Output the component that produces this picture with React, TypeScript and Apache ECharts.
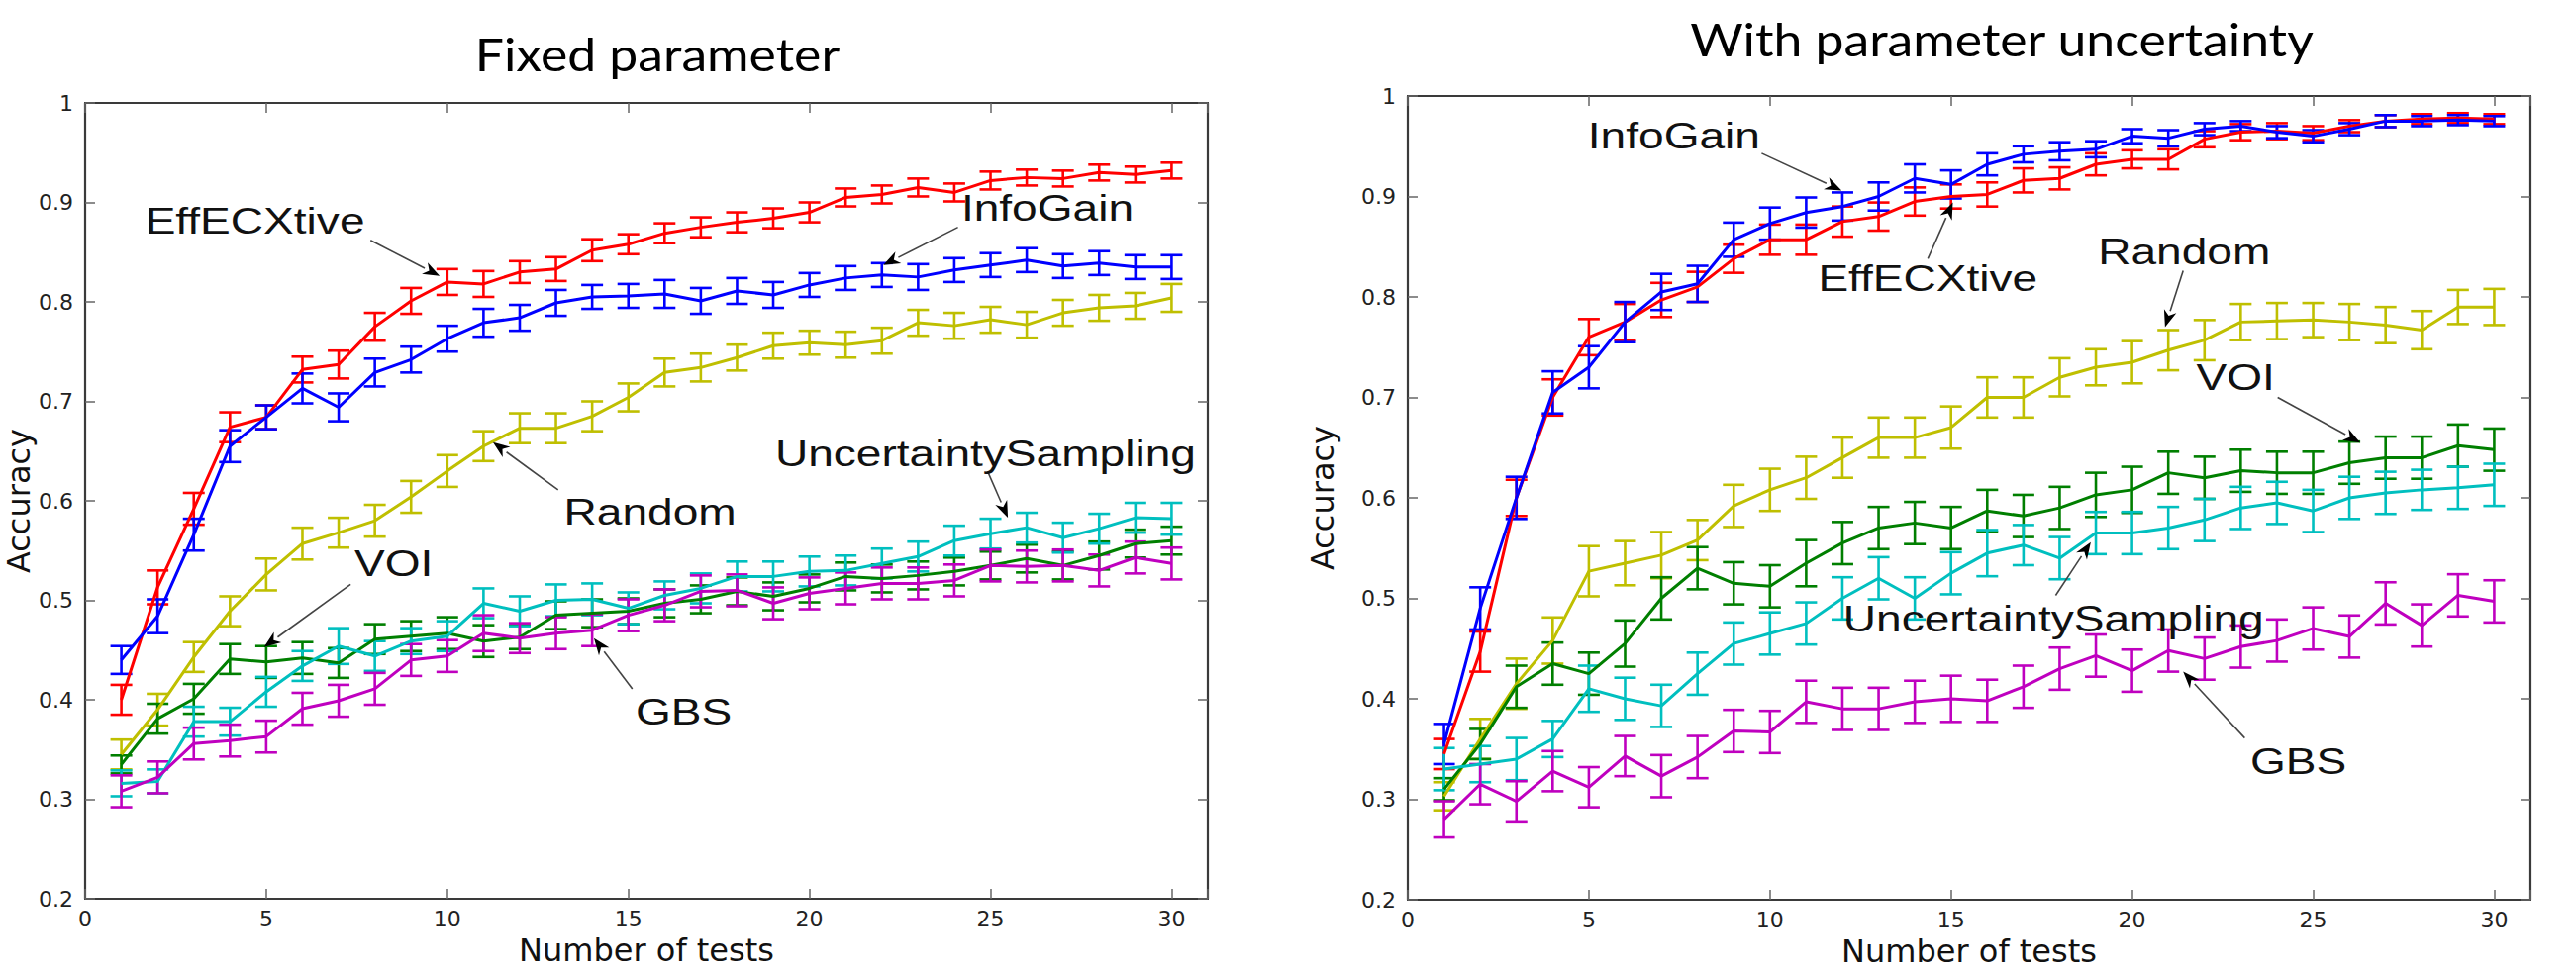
import React, { useEffect, useRef } from "react";
import * as echarts from "echarts";

// ---------------- DATA ----------------
const tests = [1, 2, 3, 4, 5, 6, 7, 8, 9, 10, 11, 12, 13, 14, 15, 16, 17, 18, 19, 20, 21, 22, 23, 24, 25, 26, 27, 28, 29, 30];
const xTicks = [0, 5, 10, 15, 20, 25, 30];
const yTicks = [0.2, 0.3, 0.4, 0.5, 0.6, 0.7, 0.8, 0.9, 1];

const methods = ["EffECXtive", "InfoGain", "Random", "VOI", "UncertaintySampling", "GBS"];

// Panel 1: Fixed parameter
const fixedEffECXtive = [0.400, 0.513, 0.592, 0.674, 0.684, 0.732, 0.737, 0.775, 0.801, 0.820, 0.818, 0.830, 0.833, 0.852, 0.858, 0.869, 0.875, 0.880, 0.884, 0.890, 0.905, 0.908, 0.915, 0.910, 0.922, 0.925, 0.924, 0.930, 0.928, 0.932];
const fixedInfoGain = [0.440, 0.484, 0.566, 0.655, 0.684, 0.713, 0.694, 0.729, 0.742, 0.763, 0.779, 0.784, 0.799, 0.805, 0.806, 0.808, 0.801, 0.811, 0.807, 0.817, 0.824, 0.827, 0.825, 0.832, 0.837, 0.842, 0.836, 0.839, 0.835, 0.835];
const fixedRandom = [0.345, 0.390, 0.443, 0.489, 0.526, 0.557, 0.568, 0.580, 0.604, 0.630, 0.655, 0.673, 0.673, 0.685, 0.704, 0.729, 0.734, 0.744, 0.756, 0.759, 0.757, 0.761, 0.779, 0.776, 0.782, 0.777, 0.789, 0.794, 0.796, 0.804];
const fixedVOI = [0.335, 0.381, 0.401, 0.441, 0.438, 0.442, 0.437, 0.461, 0.464, 0.467, 0.459, 0.463, 0.485, 0.487, 0.489, 0.497, 0.501, 0.509, 0.504, 0.512, 0.524, 0.522, 0.525, 0.529, 0.535, 0.542, 0.535, 0.545, 0.557, 0.560];
const fixedUncertainty = [0.316, 0.318, 0.378, 0.378, 0.408, 0.434, 0.454, 0.444, 0.459, 0.464, 0.497, 0.489, 0.500, 0.501, 0.492, 0.505, 0.512, 0.524, 0.524, 0.529, 0.530, 0.537, 0.544, 0.560, 0.567, 0.573, 0.563, 0.572, 0.583, 0.582];
const fixedGBS = [0.308, 0.322, 0.356, 0.359, 0.363, 0.391, 0.399, 0.411, 0.440, 0.444, 0.467, 0.462, 0.467, 0.470, 0.485, 0.495, 0.509, 0.510, 0.497, 0.507, 0.512, 0.517, 0.517, 0.520, 0.535, 0.534, 0.535, 0.530, 0.543, 0.537];

const fixedErrEffECXtive = [0.015, 0.017, 0.016, 0.015, 0.012, 0.013, 0.014, 0.014, 0.013, 0.013, 0.013, 0.011, 0.012, 0.011, 0.010, 0.010, 0.010, 0.010, 0.010, 0.010, 0.009, 0.009, 0.009, 0.009, 0.009, 0.008, 0.008, 0.008, 0.008, 0.008];
const fixedErrInfoGain = [0.014, 0.017, 0.016, 0.016, 0.012, 0.015, 0.014, 0.014, 0.013, 0.013, 0.014, 0.013, 0.013, 0.012, 0.012, 0.014, 0.013, 0.013, 0.013, 0.012, 0.012, 0.012, 0.013, 0.012, 0.012, 0.012, 0.012, 0.012, 0.012, 0.012];
const fixedErrRandom = [0.015, 0.016, 0.015, 0.015, 0.016, 0.016, 0.015, 0.016, 0.016, 0.016, 0.015, 0.015, 0.015, 0.015, 0.014, 0.014, 0.014, 0.013, 0.013, 0.012, 0.013, 0.013, 0.013, 0.013, 0.013, 0.013, 0.013, 0.013, 0.013, 0.014];
const fixedErrVOI = [0.009, 0.015, 0.015, 0.015, 0.016, 0.016, 0.015, 0.015, 0.015, 0.016, 0.016, 0.012, 0.014, 0.014, 0.013, 0.014, 0.014, 0.014, 0.014, 0.014, 0.014, 0.014, 0.014, 0.014, 0.014, 0.014, 0.014, 0.014, 0.014, 0.014];
const fixedErrUncertainty = [0.013, 0.012, 0.015, 0.014, 0.015, 0.015, 0.018, 0.015, 0.013, 0.015, 0.015, 0.015, 0.016, 0.016, 0.016, 0.014, 0.015, 0.015, 0.015, 0.015, 0.015, 0.015, 0.015, 0.015, 0.015, 0.015, 0.015, 0.015, 0.015, 0.016];
const fixedErrGBS = [0.016, 0.016, 0.016, 0.016, 0.016, 0.016, 0.016, 0.016, 0.016, 0.016, 0.018, 0.015, 0.016, 0.016, 0.016, 0.016, 0.016, 0.016, 0.016, 0.016, 0.016, 0.016, 0.016, 0.016, 0.016, 0.016, 0.016, 0.016, 0.016, 0.016];

// Panel 2: With parameter uncertainty
const uncEffECXtive = [0.345, 0.447, 0.600, 0.700, 0.760, 0.775, 0.797, 0.810, 0.838, 0.857, 0.857, 0.875, 0.880, 0.895, 0.900, 0.902, 0.916, 0.918, 0.932, 0.937, 0.937, 0.957, 0.964, 0.965, 0.963, 0.970, 0.975, 0.977, 0.978, 0.977];
const uncInfoGain = [0.355, 0.490, 0.600, 0.705, 0.730, 0.775, 0.805, 0.813, 0.857, 0.873, 0.884, 0.890, 0.900, 0.918, 0.912, 0.932, 0.942, 0.945, 0.947, 0.960, 0.958, 0.967, 0.970, 0.964, 0.960, 0.967, 0.975, 0.975, 0.976, 0.975];
const uncRandom = [0.303, 0.360, 0.415, 0.458, 0.527, 0.535, 0.543, 0.558, 0.592, 0.608, 0.620, 0.640, 0.660, 0.660, 0.670, 0.700, 0.700, 0.720, 0.730, 0.735, 0.747, 0.757, 0.775, 0.776, 0.777, 0.775, 0.772, 0.767, 0.790, 0.790];
const uncVOI = [0.310, 0.355, 0.412, 0.435, 0.425, 0.455, 0.500, 0.530, 0.515, 0.512, 0.535, 0.555, 0.570, 0.575, 0.570, 0.587, 0.582, 0.590, 0.603, 0.608, 0.625, 0.620, 0.627, 0.625, 0.625, 0.635, 0.640, 0.640, 0.652, 0.648];
const uncUncertainty = [0.330, 0.335, 0.340, 0.360, 0.410, 0.400, 0.393, 0.425, 0.455, 0.465, 0.475, 0.500, 0.520, 0.500, 0.525, 0.545, 0.553, 0.540, 0.565, 0.565, 0.570, 0.578, 0.590, 0.595, 0.587, 0.600, 0.605, 0.608, 0.610, 0.613];
const uncGBS = [0.280, 0.315, 0.298, 0.328, 0.312, 0.343, 0.323, 0.342, 0.368, 0.367, 0.397, 0.390, 0.390, 0.397, 0.400, 0.398, 0.412, 0.430, 0.443, 0.428, 0.448, 0.440, 0.452, 0.458, 0.470, 0.462, 0.495, 0.473, 0.503, 0.497];

const uncErrEffECXtive = [0.015, 0.020, 0.018, 0.018, 0.018, 0.018, 0.017, 0.015, 0.014, 0.015, 0.015, 0.015, 0.014, 0.014, 0.012, 0.012, 0.012, 0.011, 0.011, 0.009, 0.010, 0.008, 0.008, 0.008, 0.007, 0.006, 0.006, 0.005, 0.005, 0.005];
const uncErrInfoGain = [0.020, 0.021, 0.021, 0.021, 0.021, 0.020, 0.018, 0.018, 0.017, 0.016, 0.015, 0.014, 0.014, 0.014, 0.014, 0.011, 0.008, 0.009, 0.008, 0.007, 0.008, 0.006, 0.005, 0.006, 0.006, 0.006, 0.006, 0.005, 0.005, 0.005];
const uncErrRandom = [0.014, 0.020, 0.025, 0.023, 0.025, 0.022, 0.023, 0.020, 0.021, 0.021, 0.021, 0.020, 0.020, 0.020, 0.021, 0.020, 0.020, 0.019, 0.018, 0.021, 0.020, 0.020, 0.018, 0.018, 0.017, 0.018, 0.018, 0.019, 0.017, 0.018];
const uncErrVOI = [0.011, 0.015, 0.021, 0.021, 0.021, 0.023, 0.021, 0.021, 0.021, 0.021, 0.023, 0.021, 0.021, 0.021, 0.021, 0.021, 0.021, 0.021, 0.022, 0.023, 0.021, 0.021, 0.021, 0.021, 0.021, 0.021, 0.021, 0.021, 0.021, 0.021];
const uncErrUncertainty = [0.021, 0.018, 0.021, 0.018, 0.023, 0.021, 0.021, 0.021, 0.021, 0.021, 0.021, 0.021, 0.021, 0.021, 0.021, 0.023, 0.020, 0.021, 0.021, 0.021, 0.021, 0.021, 0.021, 0.021, 0.021, 0.021, 0.021, 0.020, 0.021, 0.021];
const uncErrGBS = [0.018, 0.020, 0.020, 0.020, 0.020, 0.020, 0.021, 0.021, 0.021, 0.021, 0.021, 0.021, 0.021, 0.021, 0.023, 0.021, 0.021, 0.021, 0.021, 0.021, 0.021, 0.021, 0.021, 0.021, 0.021, 0.021, 0.021, 0.021, 0.021, 0.021];

const panelTitles = ["Fixed parameter", "With parameter uncertainty"];
const xAxisTitle = "Number of tests";
const yAxisTitle = "Accuracy";

// ---------------- STYLE / LAYOUT ----------------
const COLORS: Record<string, string> = {
  EffECXtive: "#ff0000",
  InfoGain: "#0000ff",
  Random: "#bfbf00",
  VOI: "#007f00",
  UncertaintySampling: "#00bfbf",
  GBS: "#bf00bf",
};
const FONT = '"Liberation Sans", Arial, Helvetica, sans-serif';
const AXIS_FONT = '"DejaVu Sans", "Liberation Sans", Arial, sans-serif';
const TITLE_FONT = 'Lato, "Open Sans", sans-serif';

const panels = [
  {
    grid: { left: 86, top: 104, width: 1134, height: 804 },
    title: { x: 664, y: 54 },
    yNameGap: 43,
    values: [fixedEffECXtive, fixedInfoGain, fixedRandom, fixedVOI, fixedUncertainty, fixedGBS],
    errs: [fixedErrEffECXtive, fixedErrInfoGain, fixedErrRandom, fixedErrVOI, fixedErrUncertainty, fixedErrGBS],
    // annotation anchors in data coordinates
    notes: [
      { text: "EffECXtive", at: [4.69, 0.881], from: [7.88, 0.862], to: [9.79, 0.826] },
      { text: "InfoGain", at: [26.57, 0.894], from: [24.1, 0.875], to: [22.04, 0.837] },
      { text: "Random", at: [15.6, 0.588], from: [13.06, 0.611], to: [11.26, 0.659] },
      { text: "UncertaintySampling", at: [24.86, 0.647], from: [24.94, 0.628], to: [25.48, 0.583] },
      { text: "VOI", at: [8.52, 0.537], from: [7.33, 0.516], to: [4.94, 0.453] },
      { text: "GBS", at: [16.53, 0.387], from: [15.11, 0.411], to: [14.05, 0.462] },
    ],
  },
  {
    grid: { left: 1422, top: 97, width: 1134, height: 812 },
    title: { x: 2022, y: 39 },
    yNameGap: 70,
    values: [uncEffECXtive, uncInfoGain, uncRandom, uncVOI, uncUncertainty, uncGBS],
    errs: [uncErrEffECXtive, uncErrInfoGain, uncErrRandom, uncErrVOI, uncErrUncertainty, uncErrGBS],
    notes: [
      { text: "InfoGain", at: [7.35, 0.96], from: [9.77, 0.943], to: [11.98, 0.906] },
      { text: "EffECXtive", at: [14.36, 0.8175], from: [14.36, 0.838], to: [15.05, 0.894] },
      { text: "Random", at: [21.44, 0.845], from: [21.41, 0.826], to: [20.91, 0.77] },
      { text: "VOI", at: [22.86, 0.719], from: [24.02, 0.70], to: [26.3, 0.655] },
      { text: "UncertaintySampling", at: [17.83, 0.479], from: [17.89, 0.503], to: [18.86, 0.556] },
      { text: "GBS", at: [24.59, 0.337], from: [23.11, 0.361], to: [21.41, 0.427] },
    ],
  },
];

const frameLine = { color: "#3a3a3a", width: 2.2 };
const tickStyle = { show: true, inside: true, length: 10, lineStyle: { color: "#666", width: 1.5 } };

function buildOption() {
  const grids: any[] = [];
  const xAxes: any[] = [];
  const yAxes: any[] = [];
  const series: any[] = [];
  const graphic: any[] = [];

  panels.forEach((p, g) => {
    grids.push({ ...p.grid, containLabel: false, outerBoundsMode: "none" });
    const xi = xAxes.length;
    xAxes.push({
      type: "value", gridIndex: g, position: "bottom", min: 0, max: 31, interval: 5,
      axisLine: { show: true, onZero: false, lineStyle: frameLine },
      axisTick: tickStyle,
      axisLabel: {
        fontSize: 22, color: "#222", fontFamily: AXIS_FONT, margin: 9,
        formatter: (v: number) => (xTicks.indexOf(v) >= 0 ? String(v) : ""),
      },
      splitLine: { show: false },
      name: xAxisTitle, nameLocation: "middle", nameGap: 28,
      nameTextStyle: { fontSize: 32, color: "#111", fontFamily: AXIS_FONT },
    });
    xAxes.push({
      type: "value", gridIndex: g, position: "top", min: 0, max: 31, interval: 5,
      axisLine: { show: true, onZero: false, lineStyle: frameLine },
      axisTick: tickStyle, axisLabel: { show: false }, splitLine: { show: false },
    });
    const yi = yAxes.length;
    yAxes.push({
      type: "value", gridIndex: g, position: "left", min: yTicks[0], max: yTicks[yTicks.length - 1], interval: 0.1,
      axisLine: { show: true, onZero: false, lineStyle: frameLine },
      axisTick: tickStyle,
      axisLabel: { fontSize: 22, color: "#222", fontFamily: AXIS_FONT, margin: 12 },
      splitLine: { show: false },
      name: yAxisTitle, nameLocation: "middle", nameGap: p.yNameGap, nameRotate: 90,
      nameTextStyle: { fontSize: 32, color: "#111", fontFamily: AXIS_FONT },
    });
    yAxes.push({
      type: "value", gridIndex: g, position: "right", min: yTicks[0], max: yTicks[yTicks.length - 1], interval: 0.1,
      axisLine: { show: true, onZero: false, lineStyle: frameLine },
      axisTick: tickStyle, axisLabel: { show: false }, splitLine: { show: false },
    });

    methods.forEach((m, k) => {
      const color = COLORS[m];
      const vals = p.values[k];
      const errs = p.errs[k];
      series.push({
        type: "line", name: m, xAxisIndex: xi, yAxisIndex: yi,
        data: vals.map((v, i) => [tests[i], v]),
        symbol: "none", lineStyle: { color, width: 3 }, itemStyle: { color },
        z: 4, silent: true,
      });
      series.push({
        type: "custom", name: m + " error", xAxisIndex: xi, yAxisIndex: yi,
        data: vals.map((v, i) => [tests[i], v - errs[i], v + errs[i]]),
        encode: { x: 0, y: [1, 2] },
        silent: true, z: 4,
        renderItem: (_params: any, api: any) => {
          const x = api.value(0);
          const lo = api.coord([x, api.value(1)]);
          const hi = api.coord([x, api.value(2)]);
          const hw = 11;
          const style = { stroke: color, lineWidth: 2.6, fill: null };
          return {
            type: "group",
            children: [
              { type: "line", shape: { x1: lo[0], y1: lo[1], x2: hi[0], y2: hi[1] }, style },
              { type: "line", shape: { x1: lo[0] - hw, y1: lo[1], x2: lo[0] + hw, y2: lo[1] }, style },
              { type: "line", shape: { x1: hi[0] - hw, y1: hi[1], x2: hi[0] + hw, y2: hi[1] }, style },
            ],
          };
        },
      });
    });

    // arrows
    series.push({
      type: "custom", name: "arrows" + g, xAxisIndex: xi, yAxisIndex: yi, silent: true, z: 6,
      data: p.notes.map((n) => [n.from[0], n.from[1], n.to[0], n.to[1]]),
      encode: { x: [0, 2], y: [1, 3] },
      renderItem: (_params: any, api: any) => {
        const a = api.coord([api.value(0), api.value(1)]);
        const b = api.coord([api.value(2), api.value(3)]);
        const dx = b[0] - a[0];
        const dy = b[1] - a[1];
        const len = Math.sqrt(dx * dx + dy * dy) || 1;
        const ux = dx / len;
        const uy = dy / len;
        const hl = 17;
        const hw = 6.5;
        const bx = b[0] - ux * hl;
        const by = b[1] - uy * hl;
        return {
          type: "group",
          children: [
            { type: "line", shape: { x1: a[0], y1: a[1], x2: bx, y2: by }, style: { stroke: "#444", lineWidth: 1.6 } },
            {
              type: "polygon",
              shape: { points: [[b[0], b[1]], [bx - uy * hw, by + ux * hw], [b[0] - ux * hl * 0.7, b[1] - uy * hl * 0.7], [bx + uy * hw, by - ux * hw]] },
              style: { fill: "#000" },
            },
          ],
        };
      },
    });

    // annotation labels
    series.push({
      type: "custom", name: "labels" + g, xAxisIndex: xi, yAxisIndex: yi, silent: true, z: 7,
      data: p.notes.map((n) => [n.at[0], n.at[1]]),
      encode: { x: 0, y: 1 },
      renderItem: (params: any, api: any) => {
        const pt = api.coord([api.value(0), api.value(1)]);
        const n = p.notes[params.dataIndex];
        return {
          type: "text", x: pt[0], y: pt[1], scaleX: 1.28,
          style: { text: n.text, fill: "#111", fontSize: 36, fontFamily: FONT, align: "center", verticalAlign: "middle" },
        };
      },
    });

    graphic.push({
      type: "text", x: p.title.x, y: p.title.y, scaleX: 1.1,
      style: { text: panelTitles[g], fill: "#000", fontSize: 47, fontFamily: TITLE_FONT, align: "center", verticalAlign: "middle" },
    });
  });

  return {
    animation: false,
    backgroundColor: "#ffffff",
    grid: grids,
    xAxis: xAxes,
    yAxis: yAxes,
    series,
    graphic,
  };
}

export default function App() {
  const ref = useRef<HTMLDivElement>(null);
  useEffect(() => {
    if (!ref.current) return;
    const chart = echarts.init(ref.current, null, { renderer: "svg" });
    chart.setOption(buildOption() as any);
    return () => chart.dispose();
  }, []);
  return (
    <div
      ref={ref}
      style={{ position: "absolute", left: 0, top: 0, width: 2602, height: 979, background: "#fff" }}
    />
  );
}
